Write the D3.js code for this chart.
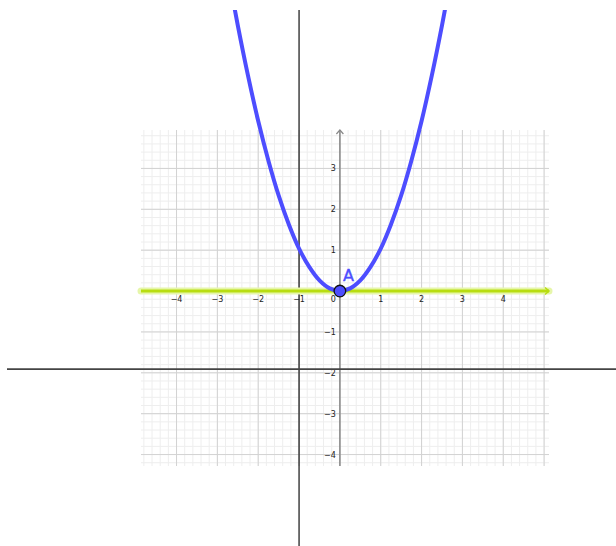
<!DOCTYPE html>
<html><head><meta charset="utf-8">
<script src="https://cdn.jsdelivr.net/npm/d3@7"></script>
<style>html,body{margin:0;padding:0;background:#fff;}svg{display:block;}</style>
</head><body>
<script>
// ---- data ----
const xTicks = [-4, -3, -2, -1, 1, 2, 3, 4];
const yTicks = [-4, -3, -2, -1, 1, 2, 3];
const xTickLabels = ["\u22124", "\u22123", "\u22122", "\u22121", "1", "2", "3", "4"];
const yTickLabels = ["\u22124", "\u22123", "\u22122", "\u22121", "1", "2", "3"];
// parabola points
const curveX = [-2.7, -2.5, -2.25, -2, -1.75, -1.5, -1.25, -1, -0.75, -0.5, -0.25, 0, 0.25, 0.5, 0.75, 1, 1.25, 1.5, 1.75, 2, 2.25, 2.5, 2.7];
const curveY = [7.58, 6.5, 5.27, 4.16, 3.19, 2.34, 1.63, 1.04, 0.59, 0.26, 0.065, 0, 0.065, 0.26, 0.59, 1.04, 1.63, 2.34, 3.19, 4.16, 5.27, 6.5, 7.58];
const pointA = {label: "A", x: 0, y: 0};
const lineY = 0;            // green line y = 0
const extraAxisX = -1.0;    // black vertical line
const extraAxisY = -1.91;   // black horizontal line

const W = 616, H = 546;
const svg = d3.select("body").append("svg").attr("width", W).attr("height", H);

const xMin = -4.87, xMax = 5.12, yMin = -4.28, yMax = 3.94;
const x = d3.scaleLinear().domain([xMin, xMax]).range([141, 549]);
const y = d3.scaleLinear().domain([yMin, yMax]).range([466, 130]);

// grid
const g = svg.append("g");
const minorX = d3.range(Math.ceil(xMin / 0.2), Math.floor(xMax / 0.2) + 1).map(i => +(i * 0.2).toFixed(2));
const minorY = d3.range(Math.ceil(yMin / 0.2), Math.floor(yMax / 0.2) + 1).map(i => +(i * 0.2).toFixed(2));
g.selectAll(".mx").data(minorX).enter().append("line")
  .attr("x1", d => x(d)).attr("x2", d => x(d)).attr("y1", y(yMax)).attr("y2", y(yMin))
  .attr("stroke", "#eeeeee").attr("stroke-width", 1);
g.selectAll(".my").data(minorY).enter().append("line")
  .attr("y1", d => y(d)).attr("y2", d => y(d)).attr("x1", x(xMin)).attr("x2", x(xMax))
  .attr("stroke", "#eeeeee").attr("stroke-width", 1);
const majorX = d3.range(Math.ceil(xMin), Math.floor(xMax) + 1);
const majorY = d3.range(Math.ceil(yMin), Math.floor(yMax) + 1);
g.selectAll(".Mx").data(majorX).enter().append("line")
  .attr("x1", d => x(d)).attr("x2", d => x(d)).attr("y1", y(yMax)).attr("y2", y(yMin))
  .attr("stroke", "#d2d2d2").attr("stroke-width", 1);
g.selectAll(".My").data(majorY).enter().append("line")
  .attr("y1", d => y(d)).attr("y2", d => y(d)).attr("x1", x(xMin)).attr("x2", x(xMax))
  .attr("stroke", "#d2d2d2").attr("stroke-width", 1);

// axes
svg.append("line").attr("x1", x(0)).attr("x2", x(0)).attr("y1", y(yMin)).attr("y2", y(yMax))
  .attr("stroke", "#888").attr("stroke-width", 1.5);
svg.append("path")
  .attr("d", `M${x(0) - 3.5},${y(yMax) + 4} L${x(0)},${y(yMax)} L${x(0) + 3.5},${y(yMax) + 4}`)
  .attr("fill", "none").attr("stroke", "#888").attr("stroke-width", 1.2);
svg.append("line").attr("x1", x(xMin)).attr("x2", x(xMax)).attr("y1", y(0)).attr("y2", y(0))
  .attr("stroke", "#888").attr("stroke-width", 1.5);

// tick labels
const font = "DejaVu Sans, sans-serif";
svg.selectAll(".xl").data(xTicks).enter().append("text")
  .attr("x", d => x(d)).attr("y", y(0) + 10.5)
  .attr("text-anchor", "middle").attr("font-family", font).attr("font-size", 8).attr("fill", "#222")
  .text((d, i) => xTickLabels[i]);
svg.selectAll(".yl").data(yTicks).enter().append("text")
  .attr("x", x(0) - 4).attr("y", d => y(d) + 3)
  .attr("text-anchor", "end").attr("font-family", font).attr("font-size", 8).attr("fill", "#222")
  .text((d, i) => yTickLabels[i]);
svg.append("text").attr("x", x(0) - 4).attr("y", y(0) + 10.5)
  .attr("text-anchor", "end").attr("font-family", font).attr("font-size", 8).attr("fill", "#222").text("0");

// clip
svg.append("clipPath").attr("id", "view").append("rect").attr("x", 7).attr("y", 10).attr("width", W - 7).attr("height", H - 10);

// black extra axes
svg.append("line").attr("x1", x(extraAxisX)).attr("x2", x(extraAxisX)).attr("y1", 10).attr("y2", H)
  .attr("stroke", "#111").attr("stroke-width", 1.2);
svg.append("line").attr("x1", 7).attr("x2", W).attr("y1", y(extraAxisY)).attr("y2", y(extraAxisY))
  .attr("stroke", "#444").attr("stroke-width", 1.6);

// green line y=0
const gl = svg.append("g");
gl.append("line").attr("x1", x(xMin)).attr("x2", x(xMax)).attr("y1", y(lineY)).attr("y2", y(lineY))
  .attr("stroke", "#e6f6aa").attr("stroke-width", 7).attr("stroke-linecap", "round");
gl.append("line").attr("x1", x(xMin)).attr("x2", x(xMax)).attr("y1", y(lineY)).attr("y2", y(lineY))
  .attr("stroke", "#b8dd10").attr("stroke-width", 3);
gl.append("path")
  .attr("d", `M${x(xMax) - 4},${y(lineY) - 3.5} L${x(xMax)},${y(lineY)} L${x(xMax) - 4},${y(lineY) + 3.5}`)
  .attr("fill", "none").attr("stroke", "#b8dd10").attr("stroke-width", 1.5);

// parabola
const pts = curveX.map((v, i) => [v, curveY[i]]);
svg.append("path").datum(pts).attr("clip-path", "url(#view)")
  .attr("d", d3.line().x(d => x(d[0])).y(d => y(d[1])).curve(d3.curveCatmullRom.alpha(0.5)))
  .attr("fill", "none").attr("stroke", "#4d4dff").attr("stroke-width", 4);

// point A
svg.append("circle").attr("cx", x(pointA.x)).attr("cy", y(pointA.y)).attr("r", 5.8)
  .attr("fill", "#4d4dff").attr("stroke", "#111").attr("stroke-width", 1.3);
svg.append("text").attr("x", x(pointA.x) + 3).attr("y", y(pointA.y) - 10)
  .attr("font-family", font).attr("font-size", 16).attr("fill", "#4d4dff")
  .attr("stroke", "#4d4dff").attr("stroke-width", 0.4).text(pointA.label);
</script>
</body></html>
